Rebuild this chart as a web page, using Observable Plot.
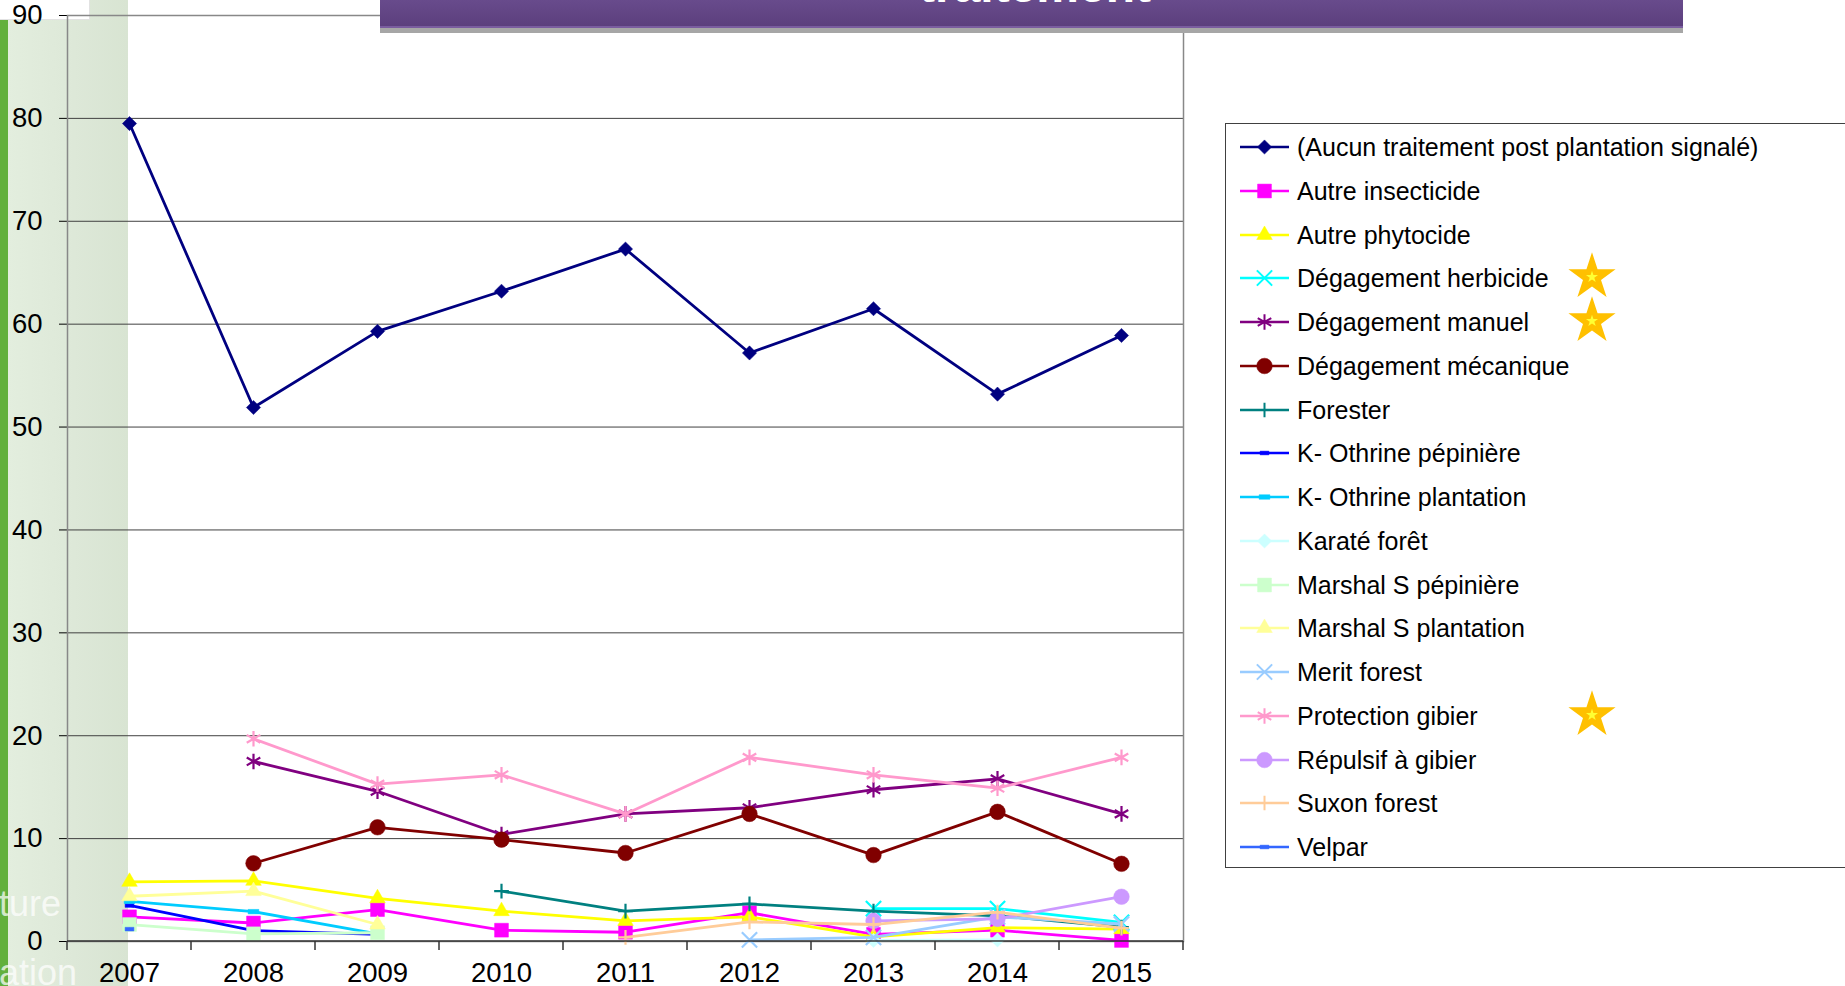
<!DOCTYPE html>
<html><head><meta charset="utf-8">
<script src="https://cdn.jsdelivr.net/npm/d3@7"></script>
<script src="https://cdn.jsdelivr.net/npm/@observablehq/plot@0.6"></script>
<style>
html,body{margin:0;padding:0;width:1845px;height:986px;overflow:hidden;background:#fff;font-family:"Liberation Sans",Arial,sans-serif;}
#bg-green{position:absolute;left:0;top:20px;width:8px;height:966px;background:#62b03c;}
#bg-band{position:absolute;left:8px;top:0;width:120px;height:986px;background:linear-gradient(to right,#e3eede,#dde8d8 55%,#d8e4d2);}
#topbox{position:absolute;left:0;top:0;width:89px;height:19px;background:#fff;border-right:1px solid #e2e2e2;border-bottom:1px solid #e2e2e2;}
.slidetxt{position:absolute;left:-1px;font-size:36px;color:rgba(255,255,255,0.72);font-family:"Liberation Sans",Arial,sans-serif;line-height:1;}
#chart{position:absolute;left:0;top:0;}
#banner{position:absolute;left:380px;top:0;width:1303px;height:26px;background:linear-gradient(#684b8c,#5c3f7d);border-bottom:2px solid #7a5c9f;box-shadow:0 5px 0 #a6a6a6;overflow:hidden;}
#legend{position:absolute;left:1225px;top:123px;width:700px;height:743px;border:1.5px solid #404040;background:#fff;}
#legend .row{position:absolute;left:0;height:40px;width:600px;}
#legend .row svg{position:absolute;left:0;top:0;}
#legend .row span{position:absolute;left:71px;top:0;line-height:40px;font-size:25px;color:#000;white-space:nowrap;}
</style></head>
<body>
<div id="bg-band"></div>
<div id="bg-green"></div>
<div id="topbox"></div>
<div class="slidetxt" style="top:886px;">ture</div>
<div class="slidetxt" style="top:955px;">ation</div>
<div id="chart"></div>
<div id="banner"><svg width="1303" height="26"><text x="655" y="2" text-anchor="middle" fill="#fff" font-weight="bold" font-size="48" font-family="Liberation Sans, Arial, sans-serif">traitement</text></svg></div>
<div id="legend"></div>
<script>
// ---- data ----
const years = [2007, 2008, 2009, 2010, 2011, 2012, 2013, 2014, 2015];
const yTicks = [0, 10, 20, 30, 40, 50, 60, 70, 80, 90];
const seriesNames = [
  "(Aucun traitement post plantation signalé)", "Autre insecticide", "Autre phytocide",
  "Dégagement herbicide", "Dégagement manuel", "Dégagement mécanique", "Forester",
  "K- Othrine pépinière", "K- Othrine plantation", "Karaté forêt", "Marshal S pépinière",
  "Marshal S plantation", "Merit forest", "Protection gibier", "Répulsif à gibier",
  "Suxon forest", "Velpar"
];
const seriesColors = ["#000080","#FF00FF","#FFFF00","#00FFFF","#800080","#800000","#008080",
  "#0000FF","#00CCFF","#CCFFFF","#CCFFCC","#FFFF99","#99CCFF","#FF99CC","#CC99FF","#FFCC99","#3366FF"];
const aucun            = [79.5, 51.9, 59.3, 63.2, 67.3, 57.2, 61.5, 53.2, 58.9];
const autreInsecticide = [2.4, 1.8, 3.1, 1.1, 0.9, 2.8, 0.7, 1.1, 0.1];
const autrePhytocide   = [5.8, 5.9, 4.2, 2.95, 2.0, 2.4, 0.45, 1.35, 1.2];
const degHerbicide     = [null, null, null, null, null, null, 3.2, 3.2, 1.85];
const degManuel        = [null, 17.5, 14.6, 10.4, 12.4, 13.0, 14.75, 15.8, 12.4];
const degMecanique     = [null, 7.6, 11.1, 9.9, 8.6, 12.4, 8.4, 12.6, 7.55];
const forester         = [null, null, null, 4.9, 2.95, 3.65, 2.95, 2.5, 1.4];
const kOthrinePep      = [3.5, 1.05, 0.7, null, null, null, null, null, null];
const kOthrinePlant    = [3.9, 2.9, 0.75, null, null, null, null, null, null];
const karateForet      = [null, null, null, null, null, null, 0.1, 0.15, null];
const marshalPep       = [1.65, 0.75, 0.85, null, null, null, null, null, null];
const marshalPlant     = [4.4, 4.9, 1.65, null, null, null, null, null, null];
const meritForest      = [null, null, null, null, null, 0.15, 0.4, 2.4, 1.7];
const protectionGibier = [null, 19.7, 15.3, 16.2, 12.4, 17.9, 16.2, 14.9, 17.9];
const repulsifGibier   = [null, null, null, null, null, null, 2.0, 2.2, 4.35];
const suxonForest      = [null, null, null, null, 0.4, 1.9, 1.65, 2.85, 1.3];
const velpar           = [1.2, null, null, null, null, null, null, null, null];
const seriesValues = [aucun, autreInsecticide, autrePhytocide, degHerbicide, degManuel, degMecanique,
  forester, kOthrinePep, kOthrinePlant, karateForet, marshalPep, marshalPlant, meritForest,
  protectionGibier, repulsifGibier, suxonForest, velpar];
const starredSeries = ["Dégagement herbicide", "Dégagement manuel", "Protection gibier"];

// ---- marker styles ----
const symbolDash = {draw(ctx, size){ const w = Math.sqrt(size) * 0.55, h = w * 0.42; ctx.moveTo(-w,-h); ctx.lineTo(w,-h); ctx.lineTo(w,h); ctx.lineTo(-w,h); ctx.closePath(); }};
const markerStyles = [
  {sym: d3.symbolDiamond2, r: 6.4, filled: true},
  {sym: d3.symbolSquare, r: 7.8, filled: true},
  {sym: d3.symbolTriangle, r: 5.8, filled: true},
  {sym: d3.symbolTimes, r: 7, filled: false},
  {sym: d3.symbolAsterisk, r: 7.4, filled: false},
  {sym: d3.symbolCircle, r: 7.8, filled: true},
  {sym: d3.symbolPlus, r: 4.8, filled: false},
  {sym: symbolDash, r: 4.5, filled: true},
  {sym: symbolDash, r: 5.5, filled: true},
  {sym: d3.symbolDiamond2, r: 6.4, filled: true},
  {sym: d3.symbolSquare, r: 7.8, filled: true},
  {sym: d3.symbolTriangle, r: 5.8, filled: true},
  {sym: d3.symbolTimes, r: 7, filled: false},
  {sym: d3.symbolAsterisk, r: 7.4, filled: false},
  {sym: d3.symbolCircle, r: 7.8, filled: true},
  {sym: d3.symbolPlus, r: 4.8, filled: false},
  {sym: symbolDash, r: 4.5, filled: true}
];

const series = seriesNames.map((name, i) => ({
  name, color: seriesColors[i], ...markerStyles[i],
  data: years.map((year, j) => ({year, value: seriesValues[i][j], name})).filter(d => d.value != null)
}));

const marks = [
  Plot.ruleY(yTicks, {stroke: "#404040", strokeWidth: 1}),
  Plot.frame({stroke: "#888", strokeWidth: 1.5})
];
for (const s of series) {
  marks.push(Plot.line(s.data, {x: "year", y: "value", stroke: s.color, strokeWidth: 2.8}));
  marks.push(Plot.dot(s.data, {x: "year", y: "value", symbol: s.sym, r: s.r,
    fill: s.filled ? s.color : "none", stroke: s.color, strokeWidth: s.filled ? 0.5 : 2.2}));
}

const plot = Plot.plot({
  width: 1190, height: 986,
  marginLeft: 67, marginRight: 7, marginTop: 15, marginBottom: 45,
  style: {background: "transparent", fontFamily: "Liberation Sans, Arial, sans-serif", fontSize: "27.5px", color: "#000", overflow: "visible"},
  x: {type: "point", domain: years, label: null, tickSize: 0, tickPadding: 21, tickFormat: d => String(d)},
  y: {domain: [0, 90], ticks: yTicks, tickSize: 8, tickPadding: 17, label: null, line: true},
  marks
});
document.getElementById("chart").appendChild(plot);

// category boundary ticks on the x axis, from the x scale
const xs = plot.scale("x");
const step = xs.apply(years[1]) - xs.apply(years[0]);
const bounds = years.map(y => xs.apply(y) - step / 2).concat([xs.apply(years[years.length - 1]) + step / 2]);
const yBase = plot.scale("y").apply(0);
const svgSel = d3.select(plot);
svgSel.append("line").attr("x1", bounds[0]).attr("x2", bounds[bounds.length - 1]).attr("y1", yBase).attr("y2", yBase)
  .attr("stroke", "#333").attr("stroke-width", 1.5);
svgSel.append("g").selectAll("line").data(bounds).join("line")
  .attr("x1", d => d).attr("x2", d => d).attr("y1", yBase).attr("y2", yBase + 9)
  .attr("stroke", "#333").attr("stroke-width", 1.5);

// ---- legend ----
const legend = d3.select("#legend");
const rowStep = 43.75;
series.forEach((s, i) => {
  const row = legend.append("div").attr("class", "row").style("top", (3 + i * rowStep) + "px");
  const svg = row.append("svg").attr("width", 70).attr("height", 40);
  svg.append("line").attr("x1", 14).attr("x2", 63).attr("y1", 20).attr("y2", 20)
    .attr("stroke", s.color).attr("stroke-width", 2.6);
  svg.append("path").attr("transform", "translate(38.5,20)")
    .attr("d", d3.symbol(s.sym, Math.PI * s.r * s.r)())
    .attr("fill", s.filled ? s.color : "none").attr("stroke", s.color).attr("stroke-width", s.filled ? 0.5 : 2);
  row.append("span").text(s.name);
  if (starredSeries.includes(s.name)) {
    const st = row.append("svg").attr("width", 60).attr("height", 60)
      .style("left", "336px").style("top", "-12px");
    st.append("path").attr("transform", "translate(30,31)").attr("d", d3.symbol(d3.symbolStar, 690)()).attr("fill", "#FFC000");
    st.append("path").attr("transform", "translate(30,31)").attr("d", d3.symbol(d3.symbolStar, 45)()).attr("fill", "#FFFF33");
  }
});
</script>
</body></html>
